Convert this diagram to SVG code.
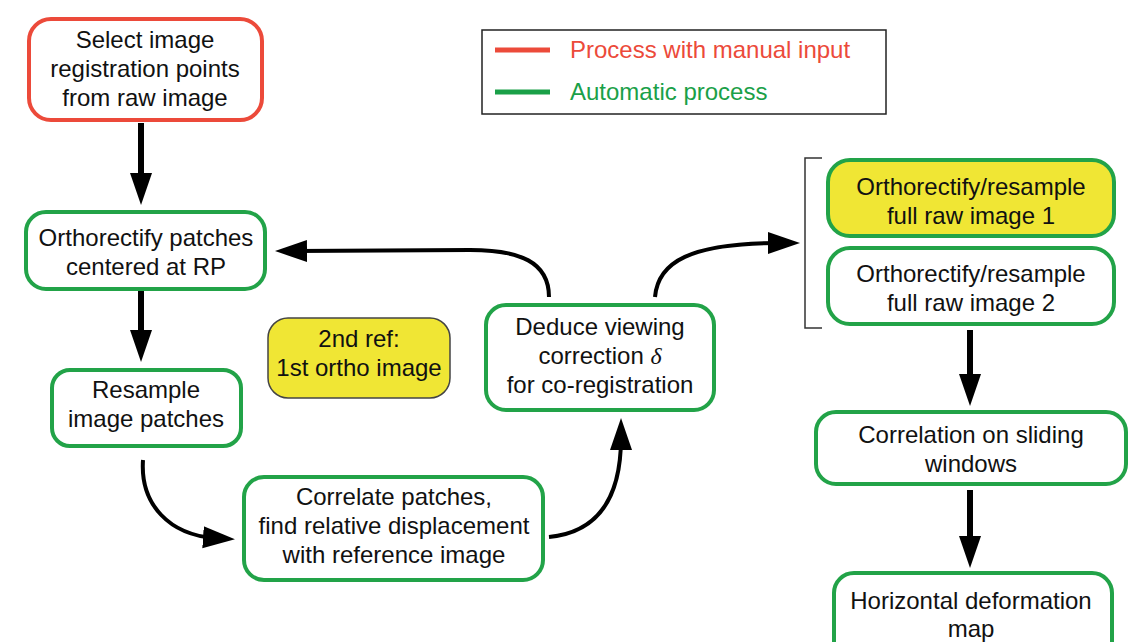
<svg xmlns="http://www.w3.org/2000/svg" width="1148" height="642" viewBox="0 0 1148 642">
<defs>
<marker id="ah" markerUnits="userSpaceOnUse" markerWidth="34" markerHeight="24" refX="12" refY="11" orient="auto">
<path d="M0,0 L32,11 L0,22 z" fill="#000"/>
</marker>
<style>
.t{font-family:"Liberation Sans",Arial,Helvetica,sans-serif;font-size:24px;fill:#111;text-anchor:middle}
.g{fill:#fff;stroke:#22a348;stroke-width:4}
.r{fill:#fff;stroke:#ec4a3a;stroke-width:4}
.y{fill:#f0e634}
.c{fill:none;stroke:#000;stroke-width:4}
.s{fill:none;stroke:#000;stroke-width:6}
.lg{font-family:"Liberation Sans",Arial,Helvetica,sans-serif;font-size:24px}
</style>
</defs>
<rect width="1148" height="642" fill="#fff"/>

<g id="legend">
<rect x="482" y="30" width="404" height="84" fill="#fff" stroke="#222" stroke-width="1.5"/>
<line x1="495" y1="50" x2="550" y2="50" stroke="#ec4a3a" stroke-width="5"/>
<line x1="495" y1="92" x2="550" y2="92" stroke="#1aa048" stroke-width="5"/>
<text class="lg" x="570" y="58" fill="#ec4a3a">Process with manual input</text>
<text class="lg" x="570" y="100" fill="#1aa048">Automatic process</text>
</g>

<g id="select">
<rect class="r" x="29" y="19" width="233" height="101" rx="22"/>
<text class="t" x="145" y="48">Select image</text>
<text class="t" x="145" y="77">registration points</text>
<text class="t" x="145" y="106">from raw image</text>
</g>

<g id="orthopatches">
<rect class="g" x="26" y="212" width="239" height="77" rx="20"/>
<text class="t" x="146" y="246">Orthorectify patches</text>
<text class="t" x="146" y="275">centered at RP</text>
</g>

<g id="resample">
<rect class="g" x="52" y="370" width="189" height="76" rx="18"/>
<text class="t" x="146" y="398">Resample</text>
<text class="t" x="146" y="427">image patches</text>
</g>

<g id="secondref">
<rect class="y" x="268" y="318" width="182" height="80" rx="20" stroke="#444" stroke-width="1.5"/>
<text class="t" x="359" y="347">2nd ref:</text>
<text class="t" x="359" y="376">1st ortho image</text>
</g>

<g id="deduce">
<rect class="g" x="486" y="305" width="228" height="105" rx="20"/>
<text class="t" x="600" y="335">Deduce viewing</text>
<text class="t" x="600" y="364">correction <tspan font-family="'Liberation Serif','Times New Roman',serif" font-style="italic">δ</tspan></text>
<text class="t" x="600" y="393">for co-registration</text>
</g>

<g id="correlate">
<rect class="g" x="244" y="477" width="299" height="103" rx="20"/>
<text class="t" x="394" y="505">Correlate patches,</text>
<text class="t" x="394" y="534">find relative displacement</text>
<text class="t" x="394" y="563">with reference image</text>
</g>

<g id="ortho1">
<rect class="g" x="828" y="160" width="286" height="76" rx="22" style="fill:#f0e634"/>
<text class="t" x="971" y="195">Orthorectify/resample</text>
<text class="t" x="971" y="224">full raw image 1</text>
</g>

<g id="ortho2">
<rect class="g" x="828" y="248" width="286" height="76" rx="22"/>
<text class="t" x="971" y="282">Orthorectify/resample</text>
<text class="t" x="971" y="311">full raw image 2</text>
</g>

<g id="correlation">
<rect class="g" x="816" y="412" width="310" height="72" rx="20"/>
<text class="t" x="971" y="443">Correlation on sliding</text>
<text class="t" x="971" y="472">windows</text>
</g>

<g id="deformation">
<rect class="g" x="834" y="573" width="278" height="90" rx="20"/>
<text class="t" x="971" y="609">Horizontal deformation</text>
<text class="t" x="971" y="637">map</text>
</g>

<g id="connectors">
<path d="M822,158 H805 V328 H822" fill="none" stroke="#333" stroke-width="1.5"/>
<path class="s" d="M141,123 V185" marker-end="url(#ah)"/>
<path class="s" d="M141,291 V342" marker-end="url(#ah)"/>
<path class="s" d="M970,330 V386" marker-end="url(#ah)"/>
<path class="s" d="M970,490 V548" marker-end="url(#ah)"/>
<path class="c" d="M549,297 C549,262 520,250 470,250 L295,251" marker-end="url(#ah)"/>
<path class="c" d="M143,460 C140,505 170,535 215,538" marker-end="url(#ah)"/>
<path class="c" d="M549,537 C600,532 621,495 621,438" marker-end="url(#ah)"/>
<path class="c" d="M655,297 C658,262 690,243 780,243" marker-end="url(#ah)"/>
</g>
</svg>
